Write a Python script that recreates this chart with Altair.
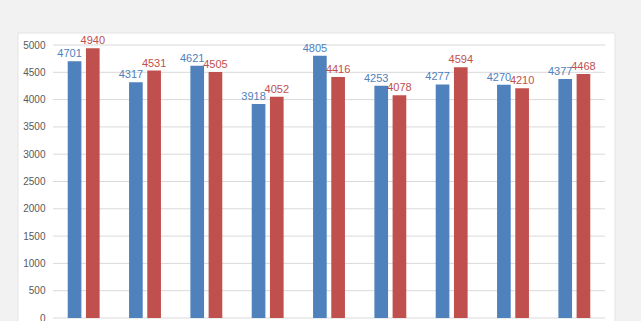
import altair as alt
import pandas as pd

groups = ["1", "2", "3", "4", "5", "6", "7", "8", "9"]
blue_vals = [4701, 4317, 4621, 3918, 4805, 4253, 4277, 4270, 4377]
red_vals = [4940, 4531, 4505, 4052, 4416, 4078, 4594, 4210, 4468]
series = ["A", "B"]
colors = ["#4f81bd", "#c0504d"]
y_ticks = list(range(0, 5001, 500))

rows = []
for g, b, r in zip(groups, blue_vals, red_vals):
    rows.append({"g": g, "s": "A", "v": b})
    rows.append({"g": g, "s": "B", "v": r})
df = pd.DataFrame(rows)
ticks_df = pd.DataFrame({"t": y_ticks})

W, H = 552, 273

xs = alt.X("g:N", sort=groups, axis=None,
           scale=alt.Scale(paddingInner=0.48, paddingOuter=0.24))
xo = alt.XOffset("s:N", sort=series, scale=alt.Scale(paddingInner=0.25))
yscale = alt.Scale(domain=[0, 5000], nice=False)
yaxis = alt.Axis(values=y_ticks, title=None, domain=False, ticks=False, grid=False,
                 format="d", labelColor="#595959", labelFontSize=10, zindex=1,
                 labelFont="Liberation Sans", labelPadding=8)

panel = alt.Chart(pd.DataFrame({"a": [0]})).mark_rect(
    color="white", stroke="#e4e4e4", strokeWidth=1
).encode(x=alt.value(-35), x2=alt.value(W + 10), y=alt.value(-12), y2=alt.value(H + 10))

grid = alt.Chart(ticks_df).mark_rule(color="#d9d9d9", strokeWidth=1).encode(
    y=alt.Y("t:Q", scale=yscale, axis=yaxis)
)

bars = alt.Chart(df).mark_bar().encode(
    x=xs, xOffset=xo, y=alt.Y("v:Q", scale=yscale, axis=yaxis),
    color=alt.Color("s:N", sort=series, scale=alt.Scale(domain=series, range=colors), legend=None),
)

lab_a = alt.Chart(df).transform_filter("datum.s == 'A'").mark_text(
    baseline="bottom", dy=-2, dx=-5, fontSize=11, font="Liberation Sans", color=colors[0]
).encode(x=xs, xOffset=xo, y=alt.Y("v:Q", scale=yscale, axis=yaxis), text="v:Q")

lab_b = alt.Chart(df).transform_filter("datum.s == 'B'").mark_text(
    baseline="bottom", dy=-2, fontSize=11, font="Liberation Sans", color=colors[1]
).encode(x=xs, xOffset=xo, y=alt.Y("v:Q", scale=yscale, axis=yaxis), text="v:Q")

chart = alt.layer(panel, grid, bars, lab_a, lab_b).properties(
    width=W, height=H,
    background="#f2f2f2",
    padding={"left": 53, "top": 45, "right": 36, "bottom": 3},
    autosize=alt.AutoSizeParams(type="none"),
).configure_view(stroke=None)

chart.save("out.html", embed_options={"renderer": "svg", "actions": False})
